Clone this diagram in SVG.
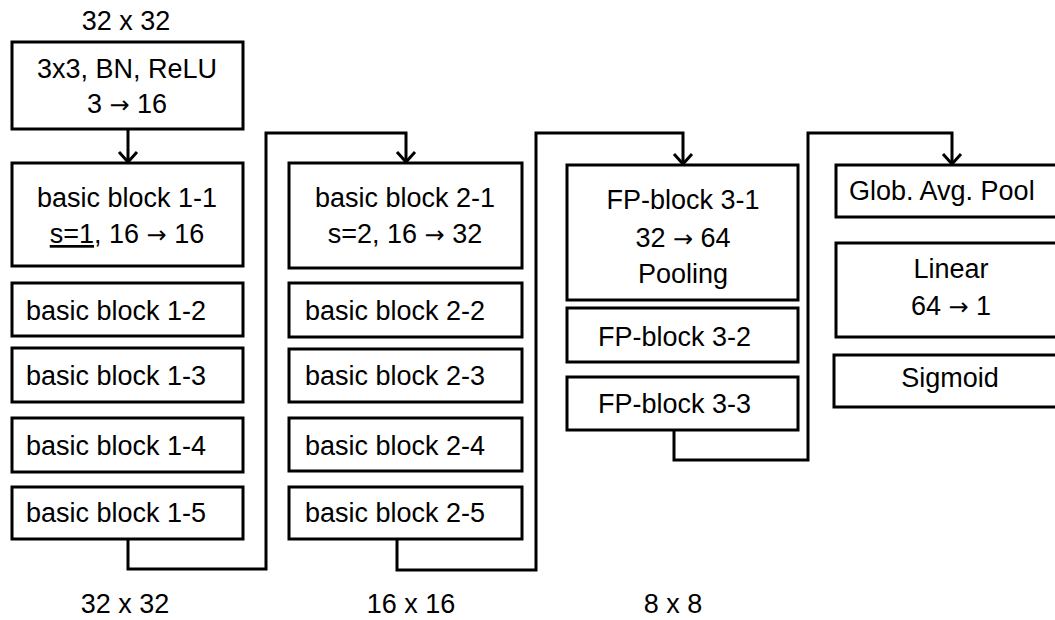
<svg xmlns="http://www.w3.org/2000/svg" width="1055" height="620" viewBox="0 0 1055 620">
<style>
  .box { fill: #fff; stroke: #000; stroke-width: 3; }
  .t { font-family: "Liberation Sans", Arial, sans-serif; font-size: 27px; fill: #000; }
  .c { text-anchor: middle; }
  .a { font-family: "DejaVu Sans", sans-serif; font-size: 24px; }
  .conn { fill: none; stroke: #000; stroke-width: 3; }
</style>
<defs>
  <marker id="arr" markerUnits="userSpaceOnUse" markerWidth="24" markerHeight="24" refX="12" refY="12" orient="auto" overflow="visible">
    <path d="M2,3 L12,12 L2,21" fill="none" stroke="#000" stroke-width="3" stroke-linejoin="miter"/>
  </marker>
</defs>
<rect width="1055" height="620" fill="#fff"/>

<g id="labels">
  <text class="t c" x="126" y="30">32 x 32</text>
  <text class="t c" x="125" y="613">32 x 32</text>
  <text class="t c" x="411" y="613">16 x 16</text>
  <text class="t c" x="673" y="613">8 x 8</text>
</g>

<g id="connectors">
  <path class="conn" d="M128,129 V162" marker-end="url(#arr)"/>
  <path class="conn" d="M128,539 V569 H266 V133 H406 V162" marker-end="url(#arr)"/>
  <path class="conn" d="M397,539 V570 H536 V133 H683 V164" marker-end="url(#arr)"/>
  <path class="conn" d="M674,430 V460 H808 V133 H952 V164" marker-end="url(#arr)"/>
</g>

<g id="conv">
  <rect class="box" x="12" y="42" width="231" height="87"/>
  <text class="t c" x="127" y="78">3x3, BN, ReLU</text>
  <text class="t c" x="127" y="113">3 <tspan class="a">→</tspan> 16</text>
</g>
<g id="bb1-1">
  <rect class="box" x="12" y="163" width="231" height="103"/>
  <text class="t c" x="127" y="207">basic block 1-1</text>
  <text class="t c" x="127" y="243"><tspan text-decoration="underline">s=1</tspan>, 16 <tspan class="a">→</tspan> 16</text>
</g>
<g id="bb1-2">
  <rect class="box" x="12" y="283" width="231" height="53"/>
  <text class="t" x="26" y="320">basic block 1-2</text>
</g>
<g id="bb1-3">
  <rect class="box" x="12" y="348" width="231" height="54"/>
  <text class="t" x="26" y="385">basic block 1-3</text>
</g>
<g id="bb1-4">
  <rect class="box" x="12" y="418" width="231" height="54"/>
  <text class="t" x="26" y="455">basic block 1-4</text>
</g>
<g id="bb1-5">
  <rect class="box" x="12" y="487" width="231" height="52"/>
  <text class="t" x="26" y="522">basic block 1-5</text>
</g>

<g id="bb2-1">
  <rect class="box" x="289" y="163" width="233" height="105"/>
  <text class="t c" x="405" y="207">basic block 2-1</text>
  <text class="t c" x="405" y="243">s=2, 16 <tspan class="a">→</tspan> 32</text>
</g>
<g id="bb2-2">
  <rect class="box" x="289" y="283" width="233" height="54"/>
  <text class="t" x="305" y="320">basic block 2-2</text>
</g>
<g id="bb2-3">
  <rect class="box" x="289" y="349" width="233" height="53"/>
  <text class="t" x="305" y="385">basic block 2-3</text>
</g>
<g id="bb2-4">
  <rect class="box" x="289" y="418" width="233" height="53"/>
  <text class="t" x="305" y="455">basic block 2-4</text>
</g>
<g id="bb2-5">
  <rect class="box" x="289" y="487" width="233" height="52"/>
  <text class="t" x="305" y="522">basic block 2-5</text>
</g>

<g id="fp3-1">
  <rect class="box" x="567" y="165" width="231" height="135"/>
  <text class="t c" x="683" y="209">FP-block 3-1</text>
  <text class="t c" x="683" y="247">32 <tspan class="a">→</tspan> 64</text>
  <text class="t c" x="683" y="283">Pooling</text>
</g>
<g id="fp3-2">
  <rect class="box" x="567" y="308" width="231" height="54"/>
  <text class="t" x="598" y="346">FP-block 3-2</text>
</g>
<g id="fp3-3">
  <rect class="box" x="567" y="377" width="231" height="53"/>
  <text class="t" x="598" y="413">FP-block 3-3</text>
</g>

<g id="gap">
  <rect class="box" x="836" y="165" width="232" height="52"/>
  <text class="t" x="849" y="200">Glob. Avg. Pool</text>
</g>
<g id="linear">
  <rect class="box" x="836" y="243" width="232" height="94"/>
  <text class="t c" x="951" y="278">Linear</text>
  <text class="t c" x="951" y="315">64 <tspan class="a">→</tspan> 1</text>
</g>
<g id="sigmoid">
  <rect class="box" x="834" y="355" width="234" height="52"/>
  <text class="t c" x="950" y="387">Sigmoid</text>
</g>
</svg>
